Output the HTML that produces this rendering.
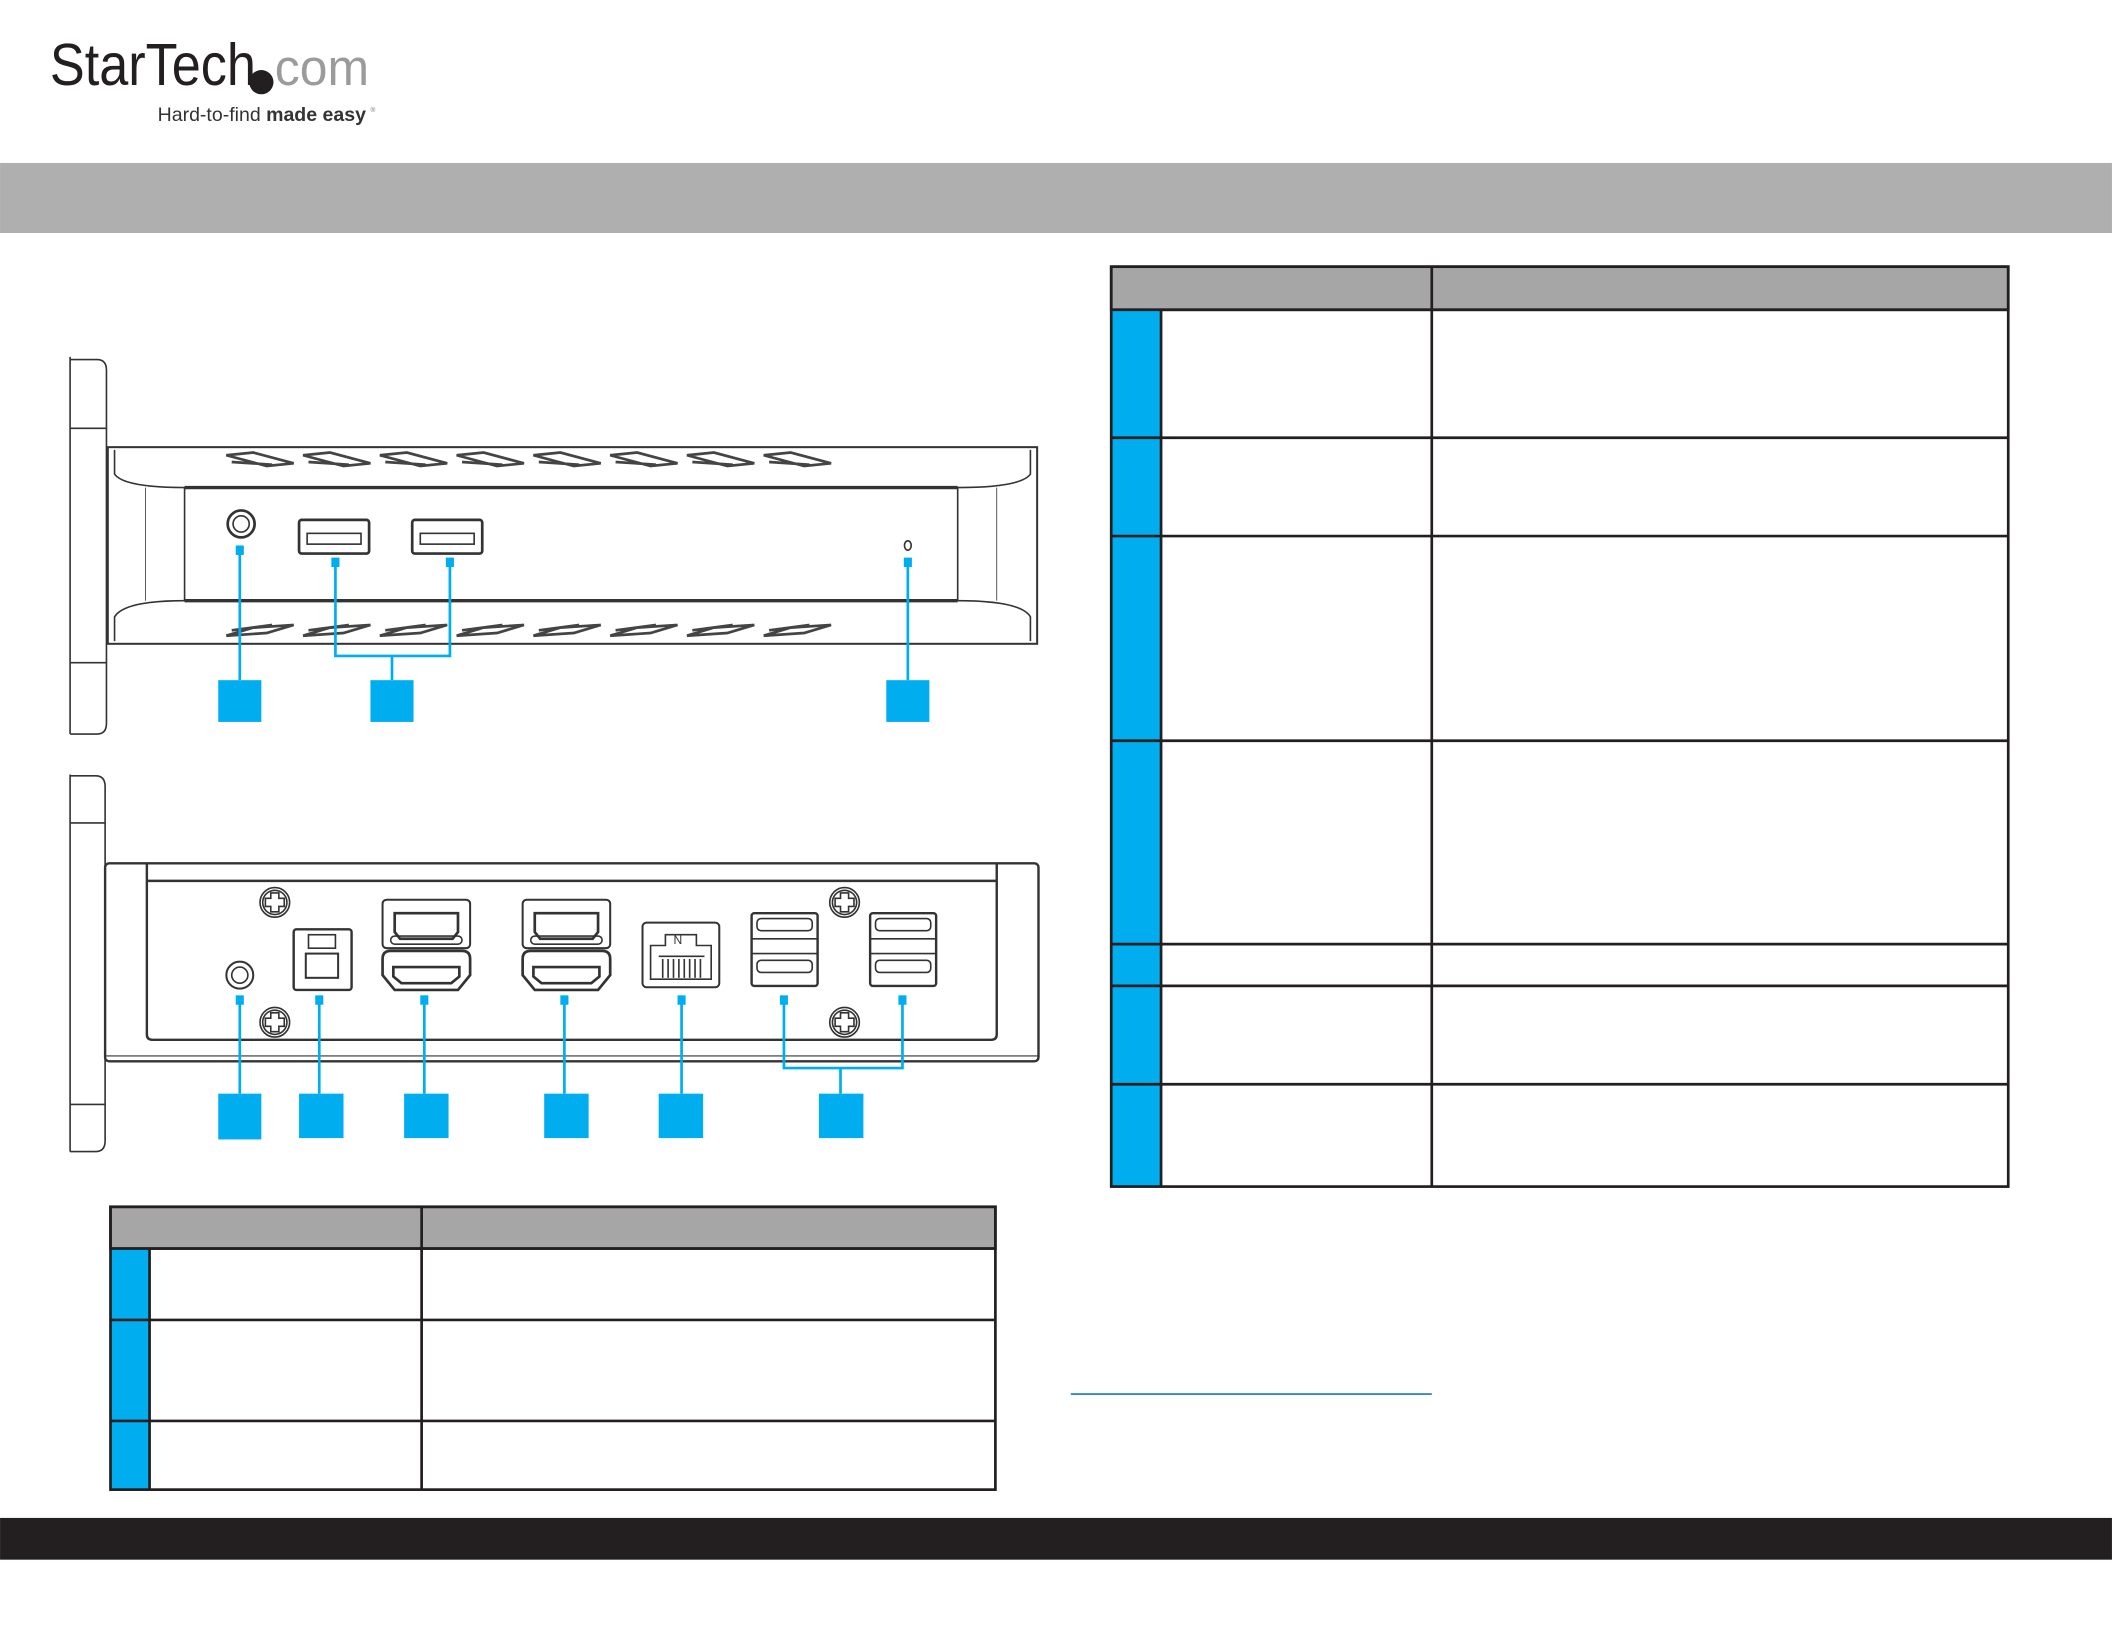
<!DOCTYPE html>
<html><head><meta charset="utf-8"><style>
html,body{margin:0;padding:0;background:#fff;}
svg{display:block;}
</style></head><body>
<svg width="2112" height="1632" viewBox="0 0 1568 1211.7" xmlns="http://www.w3.org/2000/svg" font-family="Liberation Sans, sans-serif">
<rect width="1568" height="1211.7" fill="#fff"/>
<!-- logo -->
<text x="37" y="63" font-size="44" fill="#231f20" textLength="153" lengthAdjust="spacingAndGlyphs">StarTech</text>
<circle cx="194" cy="61" r="9" fill="#231f20"/>
<text x="204" y="63" font-size="38" fill="#9b9b9b" textLength="70" lengthAdjust="spacingAndGlyphs">com</text>
<text x="117" y="90" font-size="14.5" fill="#333">Hard-to-find <tspan font-weight="bold">made easy</tspan></text>
<text x="275" y="83" font-size="5" fill="#777">®</text>
<!-- gray band -->
<rect x="0" y="121" width="1568" height="52" fill="#b0afaf"/>
<!-- footer -->
<rect x="0" y="1127" width="1568" height="31" fill="#231f20"/>
<!-- link underline -->
<line x1="795" y1="1035" x2="1063" y2="1035" stroke="#1c75bc" stroke-width="1.2"/>

<!-- right table -->
<g stroke="#231f20" stroke-width="2" fill="none">
<rect x="825" y="198" width="666" height="32" fill="#a6a6a6"/>
<rect x="825" y="230" width="37" height="651" fill="#00aeef" stroke="none"/>
<rect x="825" y="198" width="666" height="683"/>
<line x1="1063" y1="198" x2="1063" y2="881"/>
<line x1="862" y1="230" x2="862" y2="881"/>
<line x1="825" y1="230" x2="1491" y2="230"/>
<line x1="825" y1="325" x2="1491" y2="325"/>
<line x1="825" y1="398" x2="1491" y2="398"/>
<line x1="825" y1="550" x2="1491" y2="550"/>
<line x1="825" y1="701" x2="1491" y2="701"/>
<line x1="825" y1="732" x2="1491" y2="732"/>
<line x1="825" y1="805" x2="1491" y2="805"/>
</g>
<!-- bottom-left table -->
<g stroke="#231f20" stroke-width="2" fill="none">
<rect x="82" y="896" width="657" height="31" fill="#a6a6a6"/>
<rect x="82" y="927" width="29" height="179" fill="#00aeef" stroke="none"/>
<rect x="82" y="896" width="657" height="210"/>
<line x1="313" y1="896" x2="313" y2="1106"/>
<line x1="111" y1="927" x2="111" y2="1106"/>
<line x1="82" y1="927" x2="739" y2="927"/>
<line x1="82" y1="980" x2="739" y2="980"/>
<line x1="82" y1="1055" x2="739" y2="1055"/>
</g>

<!-- top device -->
<g stroke="#333" stroke-width="1.2" fill="none">
<path d="M52 267 L72 267 Q79 267 79 275 L79 537 Q79 545 72 545 L52 545"/>
<line x1="52" y1="265" x2="52" y2="545"/>
<line x1="52" y1="318" x2="79" y2="318"/>
<line x1="52" y1="492" x2="79" y2="492"/>
<rect x="80" y="332" width="690" height="146" stroke-width="1.5"/>
<path d="M85 334 L85 352 Q92 362 137 362 L711 362 Q758 362 765 352 L765 334"/>
<path d="M85 476 L85 458 Q92 446 137 446 L711 446 Q758 446 765 458 L765 476"/>
<line x1="137" y1="362" x2="137" y2="446"/>
<line x1="711" y1="362" x2="711" y2="446"/>
<line x1="108" y1="362" x2="108" y2="446" stroke-width="0.6"/>
<line x1="740" y1="362" x2="740" y2="446" stroke-width="0.6"/>
<line x1="137" y1="362" x2="711" y2="362" stroke-width="2.5"/>
<line x1="137" y1="446" x2="711" y2="446" stroke-width="2.5"/>
<circle cx="179" cy="389" r="10" stroke-width="2"/>
<circle cx="179" cy="389" r="6"/>
<rect x="222" y="386" width="52" height="25" rx="2" stroke-width="2"/>
<rect x="228" y="396" width="40" height="8"/>
<rect x="306" y="386" width="52" height="25" rx="2" stroke-width="2"/>
<rect x="312" y="396" width="40" height="8"/>
<ellipse cx="674" cy="405" rx="2.5" ry="3.5"/>
</g>
<g stroke="#444" stroke-width="2" fill="none">
<path id="vt" d="M168 338 l20 -2 l30 8 l-20 2 z M172 343 l30 2"/>
<use href="#vt" x="57"/><use href="#vt" x="114"/><use href="#vt" x="171"/><use href="#vt" x="228"/><use href="#vt" x="285"/><use href="#vt" x="342"/><use href="#vt" x="399"/>
<path id="vb" d="M168 472 l20 -6 l30 -2 l-20 6 z M172 468 l30 -4"/>
<use href="#vb" x="57"/><use href="#vb" x="114"/><use href="#vb" x="171"/><use href="#vb" x="228"/><use href="#vb" x="285"/><use href="#vb" x="342"/><use href="#vb" x="399"/>
</g>
<g fill="#00aeef">
<rect x="175" y="405" width="6" height="7"/>
<rect x="246" y="414" width="6" height="7"/>
<rect x="331" y="414" width="6" height="7"/>
<rect x="671" y="414" width="6" height="7"/>
<rect x="162" y="505" width="32" height="31"/>
<rect x="275" y="505" width="32" height="31"/>
<rect x="658" y="505" width="32" height="31"/>
</g>
<g stroke="#00aeef" stroke-width="2" fill="none">
<line x1="178" y1="410" x2="178" y2="505"/>
<path d="M249 418 L249 487 L334 487 L334 418 M291 487 L291 505"/>
<line x1="674" y1="418" x2="674" y2="505"/>
</g>

<!-- bottom device -->
<g stroke="#333" stroke-width="1.2" fill="none">
<path d="M52 576 L71 576 Q78 576 78 584 L78 847 Q78 855 71 855 L52 855"/>
<line x1="52" y1="575" x2="52" y2="855"/>
<line x1="52" y1="611" x2="78" y2="611"/>
<line x1="52" y1="820" x2="78" y2="820"/>
<rect x="78" y="641" width="693" height="147" rx="3" stroke-width="1.8"/>
<line x1="78" y1="784" x2="771" y2="784" stroke-width="0.8"/>
<path d="M109 641 L109 768 Q109 772 113 772 L736 772 Q740 772 740 768 L740 641" stroke-width="1.8"/>
<line x1="109" y1="654" x2="740" y2="654" stroke-width="1.8"/>
<g id="scr"><circle cx="204" cy="670" r="11"/><circle cx="204" cy="670" r="9"/><path d="M201 663 h6 v4 h4 v6 h-4 v4 h-6 v-4 h-4 v-6 h4 z"/></g>
<use href="#scr" y="89"/><use href="#scr" x="423"/><use href="#scr" x="423" y="89"/>
<circle cx="178" cy="724" r="10" stroke-width="1.5"/>
<circle cx="178" cy="724" r="6"/>
<rect x="218" y="690" width="43" height="45" rx="2" stroke-width="1.8"/>
<rect x="229" y="694" width="20" height="10"/>
<rect x="227" y="708" width="24" height="18" stroke-width="1.5"/>
<g id="dp">
<rect x="284" y="668" width="65" height="36" rx="3" stroke-width="1.5"/>
<path d="M293 678 H340 V692 L336 697 H297 L293 692 Z" stroke-width="2"/>
<rect x="290" y="695" width="53" height="6" rx="3"/>
<path d="M284 712 Q284 706 290 706 H343 Q349 706 349 712 V724 L340 735 H293 L284 724 Z" stroke-width="2"/>
<path d="M292 718 H341 V725 L335 730 H298 L292 725 Z" stroke-width="2"/>
</g>
<use href="#dp" x="104"/>
<rect x="477" y="685" width="57" height="48" rx="3" stroke-width="1.5"/>
<path d="M483 702 H494 V694 H517 V702 H528 V727 H483 Z"/>
<path d="M489 710 h34 M492 712 v14 M496 712 v14 M500 712 v14 M504 712 v14 M508 712 v14 M512 712 v14 M516 712 v14 M520 712 v14"/>
<text x="500" y="701" font-size="9" fill="#333" stroke="none">N</text>
<g id="us">
<rect x="558" y="678" width="49" height="54" rx="2" stroke-width="1.8"/>
<rect x="562" y="682" width="41" height="9" rx="3"/>
<line x1="558" y1="697" x2="607" y2="697"/>
<line x1="558" y1="708" x2="607" y2="708"/>
<rect x="562" y="713" width="41" height="9" rx="3"/>
</g>
<use href="#us" x="88"/>
</g>
<g fill="#00aeef">
<rect x="175" y="739" width="6" height="7"/>
<rect x="234" y="739" width="6" height="7"/>
<rect x="312" y="739" width="6" height="7"/>
<rect x="416" y="739" width="6" height="7"/>
<rect x="503" y="739" width="6" height="7"/>
<rect x="579" y="739" width="6" height="7"/>
<rect x="667" y="739" width="6" height="7"/>
<rect x="162" y="812" width="32" height="34"/>
<rect x="222" y="812" width="33" height="33"/>
<rect x="300" y="812" width="33" height="33"/>
<rect x="404" y="812" width="33" height="33"/>
<rect x="489" y="812" width="33" height="33"/>
<rect x="608" y="812" width="33" height="33"/>
</g>
<g stroke="#00aeef" stroke-width="2" fill="none">
<line x1="178" y1="745" x2="178" y2="812"/>
<line x1="237" y1="745" x2="237" y2="812"/>
<line x1="315" y1="745" x2="315" y2="812"/>
<line x1="419" y1="745" x2="419" y2="812"/>
<line x1="506" y1="745" x2="506" y2="812"/>
<path d="M582 745 L582 793 L670 793 L670 745 M624 793 L624 812"/>
</g>
</svg>
</body></html>
